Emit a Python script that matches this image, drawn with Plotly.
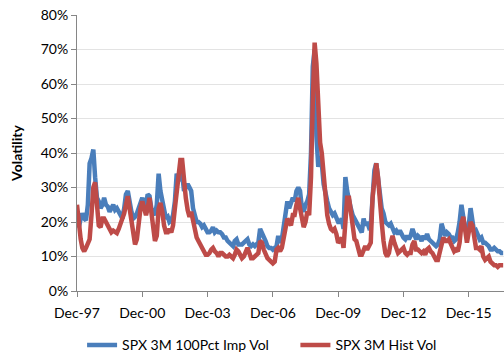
import pandas as pd
import plotly.graph_objects as go

# Monthly observations, Dec-1997 .. Jul-2017 (values in %)
start_month = "1997-12-01"

imp_vol = [
    22, 18.5, 21, 22.5, 21, 20.5, 25, 37, 38.5, 41, 33, 27, 26,          # Dec97-Dec98
    24, 25, 27, 25, 24.5, 23, 24, 25, 23.5, 24, 23, 22,                   # 1999
    21, 24, 28, 29, 25, 23, 21, 21.5, 22.5, 24, 25.5, 27,                 # 2000
    25, 25, 28, 27.5, 24, 22.5, 22, 25, 34, 29, 26, 23,                   # 2001
    21, 21.5, 20, 20.5, 22, 26, 34, 32, 33, 34, 29, 30,                   # 2002
    31, 30, 29, 24, 22, 20, 20, 19.5, 18.5, 19, 18, 17,                   # 2003
    17, 17.5, 18.5, 17, 17.5, 17, 17, 16.5, 15.5, 15.5, 14.5, 14,         # 2004
    13.5, 13, 14.5, 15, 13.5, 13.5, 13.5, 14, 14.5, 15, 13.5, 13,         # 2005
    13.5, 13, 13.5, 14, 18, 17, 15.5, 14.5, 13, 12.5, 12.5, 12,           # 2006
    12.5, 13, 16, 14, 15, 18.5, 24, 26, 24, 26, 27, 26,                   # 2007
    29, 30, 29, 24, 23, 25, 26, 28, 40, 65, 70, 45,                       # 2008
    36, 39, 37, 31, 28, 26, 24, 23, 22, 22.5, 21, 20,                     # 2009
    20, 21, 18, 33, 29, 26, 24, 22, 21, 20, 19, 18,                       # 2010
    17, 21, 19, 20, 18.5, 19, 27, 35, 37, 32, 27, 24,                     # 2011
    22.5, 20, 19.5, 19, 19.5, 18, 17, 17.5, 16.5, 17.5, 16, 15.5,         # 2012
    15, 16, 15, 16, 18, 16.5, 15, 16, 15.5, 14.5, 16, 15,                 # 2013
    16.5, 15, 14.5, 14, 13.5, 13, 13.5, 15, 19.5, 17, 16, 17,             # 2014
    16.5, 15.5, 15.5, 14.5, 15, 17, 20, 25, 21, 18, 17, 19,               # 2015
    24, 20, 17, 17.5, 16, 15, 15.5, 14, 14, 13.5, 13, 12,                 # 2016
    12, 12.5, 12, 11.5, 11.5, 11, 11,                                     # 2017
]

hist_vol = [
    25, 19, 15, 12.5, 11.5, 12.5, 13.5, 15, 22, 30, 31.5, 25, 19,         # Dec97-Dec98
    18.5, 21, 21, 20, 19.5, 18, 17, 17.5, 17, 16.8, 18, 20,               # 1999
    21, 22.5, 26, 27.5, 24, 21, 16.5, 13.5, 15, 21, 24, 26,               # 2000
    24, 22, 24, 27, 23, 18, 14.5, 16, 24, 25.5, 23, 19,                   # 2001
    17, 17, 18, 17, 19, 24, 29, 35, 38, 38, 31, 27,                       # 2002
    23.5, 21.5, 23, 20, 17, 15.5, 14.5, 13.5, 12.5, 11.5, 10.5, 10.5,     # 2003
    11, 12, 12.5, 11.5, 11, 10, 11, 11, 10.5, 10, 10, 10.5,               # 2004
    10, 9.5, 10.5, 12, 11.5, 10, 9.5, 10, 11.5, 12.5, 11, 9.5,            # 2005
    9.5, 10, 10.5, 11, 14.5, 14, 12, 10.5, 9.5, 9, 8.5, 8,                # 2006
    8.5, 12, 12.5, 11.5, 12.5, 15.5, 18.5, 21, 20, 19, 22, 22,            # 2007
    25, 27, 24, 21, 18.5, 20, 23, 22, 33, 55, 72, 66,                     # 2008
    52, 43, 40, 34, 27, 22, 19.5, 18, 17.5, 18, 16.5, 14,                 # 2009
    14.5, 15.5, 12.5, 19, 27, 27, 23, 17, 15, 14.5, 12, 10.5,             # 2010
    10.5, 12, 13, 12, 13, 14, 27, 34, 37, 33, 25, 20,                     # 2011
    14.5, 11, 10, 11, 14, 16, 14, 12, 11, 11.5, 12, 12.5,                 # 2012
    11, 10.5, 11, 11, 13.5, 14.5, 12, 12, 11.5, 11, 11.5, 10.5,           # 2013
    12, 12.5, 11.5, 11, 10, 9, 9, 11, 14, 15.5, 14.5, 14.5,               # 2014
    15, 14, 13, 11.5, 12, 11.5, 14, 19.5, 21.5, 17, 14, 17,               # 2015
    20, 19, 15, 12.5, 12.5, 12, 13, 10, 9, 9.5, 10, 8.5,                  # 2016
    8, 7.5, 7.5, 7, 7.5, 7.5, 7.5,                                        # 2017
]

tick_dates = ["1997-12-01", "2000-12-01", "2003-12-01", "2006-12-01",
              "2009-12-01", "2012-12-01", "2015-12-01"]
tick_labels = ["Dec-97", "Dec-00", "Dec-03", "Dec-06", "Dec-09", "Dec-12", "Dec-15"]

series_names = ["SPX 3M 100Pct Imp Vol", "SPX 3M Hist Vol"]

dates = pd.date_range(start_month, periods=len(imp_vol), freq="MS")

fig = go.Figure()
fig.add_trace(go.Scatter(x=dates, y=[v / 100 for v in imp_vol], mode="lines",
                         name=series_names[0] + "      ",
                         line=dict(color="#4A7EBB", width=4.5)))
fig.add_trace(go.Scatter(x=dates, y=[v / 100 for v in hist_vol], mode="lines",
                         name=series_names[1],
                         line=dict(color="#BE4B48", width=4.5)))

font_family = "Lato, 'Open Sans', sans-serif"

fig.update_layout(
    width=504, height=356,
    margin=dict(l=77, r=0, t=15, b=65),
    paper_bgcolor="white", plot_bgcolor="white",
    font=dict(family=font_family, size=14, color="#000000"),
    showlegend=True,
    legend=dict(orientation="h", xref="container", x=0.52, xanchor="center",
                yref="container", y=0.03, yanchor="middle",
                font=dict(size=14), itemwidth=30, tracegroupgap=0),
)

fig.update_xaxes(
    range=[dates[0], pd.Timestamp("2017-07-15")],
    tickvals=tick_dates, ticktext=tick_labels,
    ticks="outside", ticklen=5, tickcolor="#868686",
    showline=True, linecolor="#868686", linewidth=1,
    showgrid=False, zeroline=False,
    tickfont=dict(size=14), ticklabelstandoff=4,
)

fig.update_yaxes(
    range=[0, 0.8], dtick=0.1, tickformat=".0%",
    ticks="outside", ticklen=5, tickcolor="#868686",
    showline=True, linecolor="#868686", linewidth=1,
    showgrid=True, gridcolor="#E3E3E3", gridwidth=1,
    zeroline=False,
    title=dict(text="<b>Volatility</b>", font=dict(size=14), standoff=14),
    tickfont=dict(size=14),
)

fig.write_html("out.html")
